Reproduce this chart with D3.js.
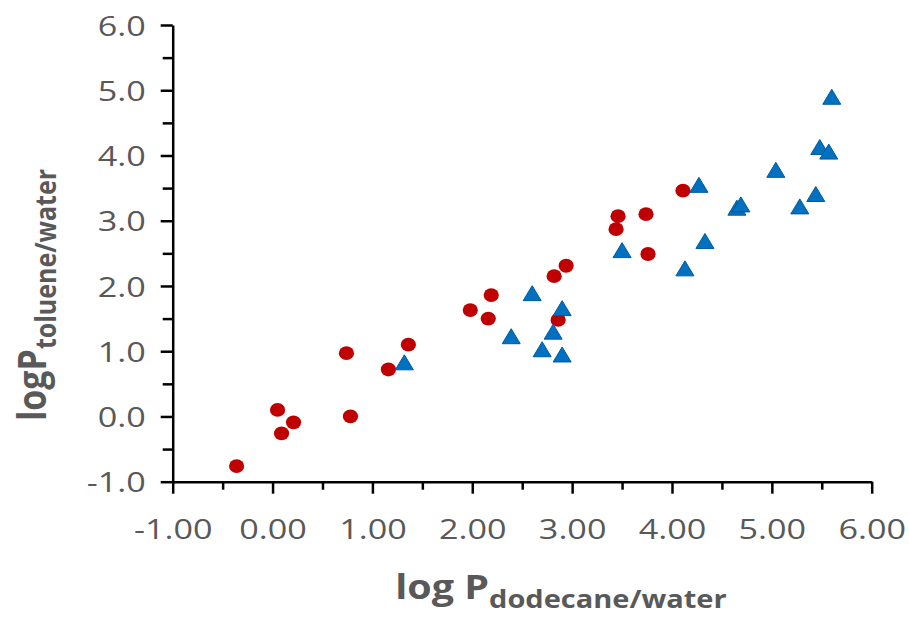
<!DOCTYPE html>
<html>
<head>
<meta charset="utf-8">
<script src="https://cdn.jsdelivr.net/npm/d3@7"></script>
<style>
  html, body { margin: 0; padding: 0; background: #fff; }
  svg { display: block; }
</style>
</head>
<body>
<svg id="chart" width="909" height="617"></svg>
<script>
// log P values: dodecane/water (x) vs toluene/water (y)
const circleX = [-0.36, 0.05, 0.09, 0.21, 0.74, 0.78, 1.16, 1.36, 1.98, 2.16, 2.19, 2.82, 2.86, 2.94, 3.44, 3.46, 3.74, 3.76, 4.11];
const circleY = [-0.76, 0.10, -0.26, -0.09, 0.97, 0.00, 0.72, 1.10, 1.63, 1.50, 1.86, 2.15, 1.48, 2.31, 2.87, 3.07, 3.10, 2.49, 3.46];

const triangleX = [1.32, 2.39, 2.60, 2.70, 2.81, 2.90, 2.90, 3.50, 4.13, 4.27, 4.33, 4.65, 4.69, 5.04, 5.28, 5.44, 5.48, 5.57, 5.60];
const triangleY = [0.83, 1.23, 1.89, 1.03, 1.30, 1.66, 0.95, 2.55, 2.27, 3.55, 2.69, 3.20, 3.25, 3.78, 3.22, 3.41, 4.13, 4.06, 4.90];

const xTicks = [-1, 0, 1, 2, 3, 4, 5, 6];
const xMinorTicks = [-0.5, 0.5, 1.5, 2.5, 3.5, 4.5, 5.5];
const yTicks = [-1, 0, 1, 2, 3, 4, 5, 6];
const yMinorTicks = [-0.5, 0.5, 1.5, 2.5, 3.5, 4.5, 5.5];

const svg = d3.select("#chart");
const plotLeft = 172.7, plotRight = 871.7, plotTop = 25, plotBottom = 481.7;
const textColor = "#595959";
const font = "'Open Sans', sans-serif";
const widen = 1.22; // horizontal widening of the label glyphs

const x = d3.scaleLinear().domain([-1, 6]).range([plotLeft, plotRight]);
const y = d3.scaleLinear().domain([-1, 6]).range([plotBottom, plotTop]);

function stretch(sel, k) {
  sel.each(function () {
    const w = this.getComputedTextLength();
    this.setAttribute("textLength", w * k);
    this.setAttribute("lengthAdjust", "spacingAndGlyphs");
  });
}

// minor ticks
const xMinor = svg.append("g").attr("transform", `translate(0,${plotBottom})`)
  .call(d3.axisBottom(x).tickValues(xMinorTicks).tickSize(8).tickFormat(""));
const yMinor = svg.append("g").attr("transform", `translate(${plotLeft},0)`)
  .call(d3.axisLeft(y).tickValues(yMinorTicks).tickSize(10).tickFormat(""));
[xMinor, yMinor].forEach(g => {
  g.select(".domain").remove();
  g.selectAll(".tick line").attr("stroke", "#000").attr("stroke-width", 2.5);
});

// major axes
const xAxis = svg.append("g").attr("transform", `translate(0,${plotBottom})`)
  .call(d3.axisBottom(x).tickValues(xTicks).tickSize(12).tickSizeOuter(0)
    .tickFormat(d => d.toFixed(2)));
const yAxis = svg.append("g").attr("transform", `translate(${plotLeft},0)`)
  .call(d3.axisLeft(y).tickValues(yTicks).tickSize(12).tickSizeOuter(0)
    .tickFormat(d => d.toFixed(1)));
[xAxis, yAxis].forEach(g => {
  g.select(".domain").attr("stroke", "#000").attr("stroke-width", 2.5);
  g.selectAll(".tick line").attr("stroke", "#000").attr("stroke-width", 2.5);
  g.selectAll(".tick text")
    .attr("fill", textColor)
    .style("font-family", font)
    .style("font-size", "28px");
});
xAxis.selectAll(".tick text").attr("dy", null).attr("y", 57);
yAxis.selectAll(".tick text").attr("x", -27).attr("dy", "0.36em");
stretch(xAxis.selectAll(".tick text"), widen);
stretch(yAxis.selectAll(".tick text"), widen);

// axis titles
const xTitle = svg.append("text")
  .attr("x", 561).attr("y", 599)
  .attr("text-anchor", "middle")
  .attr("fill", textColor)
  .style("font-family", font)
  .style("font-weight", "bold");
xTitle.append("tspan").style("font-size", "34px").text("log P");
xTitle.append("tspan").style("font-size", "25px").attr("dy", 9).text("dodecane/water");
stretch(xTitle, 1.16);

const yTitle = svg.append("text")
  .attr("transform", "translate(46,295) rotate(-90) scale(1,1.15)")
  .attr("text-anchor", "middle")
  .attr("fill", textColor)
  .style("font-family", font)
  .style("font-weight", "bold");
yTitle.append("tspan").style("font-size", "34px").text("logP");
yTitle.append("tspan").style("font-size", "25px").attr("dy", 9).text("toluene/water");

// circle series
const circles = circleX.map((v, i) => ({ x: v, y: circleY[i] }));
svg.append("g").selectAll("ellipse").data(circles).join("ellipse")
  .attr("cx", d => x(d.x)).attr("cy", d => y(d.y))
  .attr("rx", 7.6).attr("ry", 6.9)
  .attr("fill", "#C00000");

// triangle series
const triangles = triangleX.map((v, i) => ({ x: v, y: triangleY[i] }));
const tw = 18, th = 15;
svg.append("g").selectAll("path").data(triangles).join("path")
  .attr("d", d => {
    const cx = x(d.x), cy = y(d.y);
    return `M${cx},${cy - th / 2}L${cx + tw / 2},${cy + th / 2}L${cx - tw / 2},${cy + th / 2}Z`;
  })
  .attr("fill", "#0070C0")
  .attr("stroke", "#005A9E")
  .attr("stroke-width", 1);
</script>
</body>
</html>
